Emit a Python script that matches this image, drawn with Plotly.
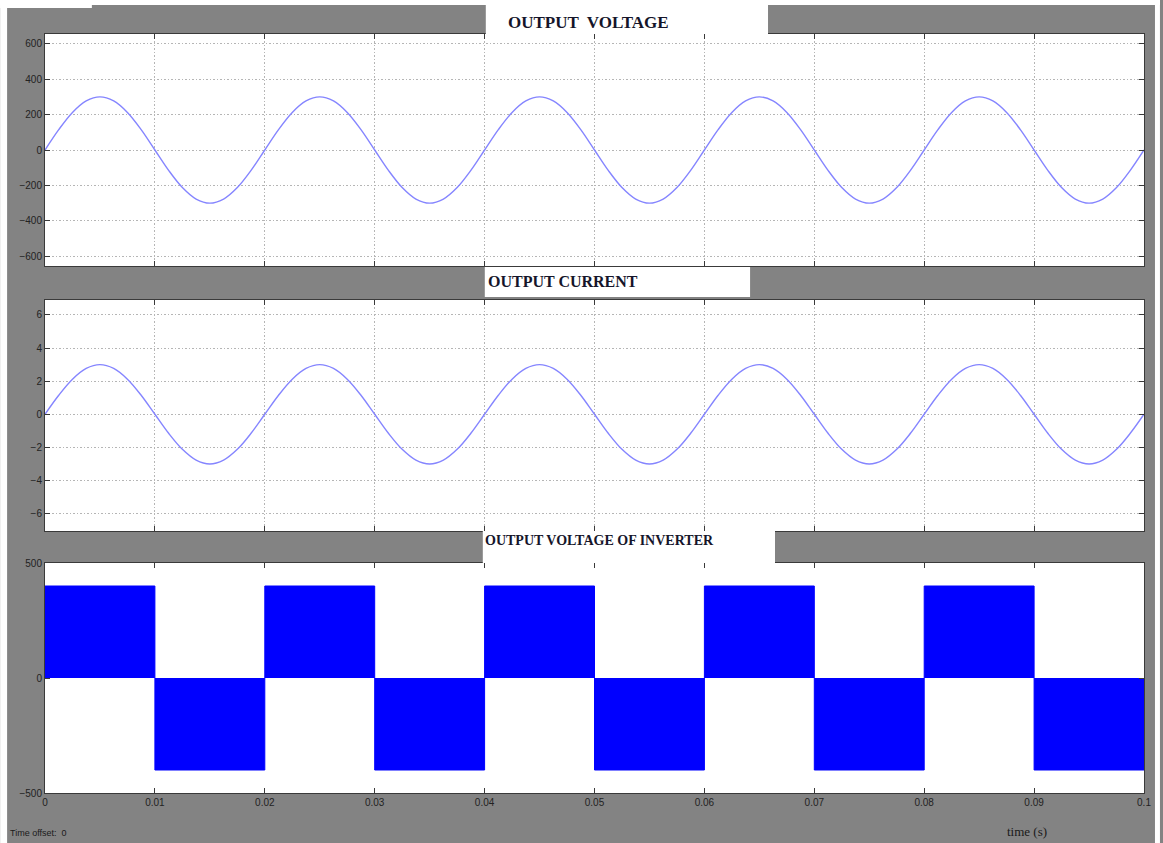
import plotly.graph_objects as go
from plotly.subplots import make_subplots

# ---- data ----
t_sine = [0.0, 0.00125, 0.0025, 0.00375, 0.005, 0.00625, 0.0075, 0.00875,
          0.01, 0.01125, 0.0125, 0.01375, 0.015, 0.01625, 0.0175, 0.01875,
          0.02, 0.02125, 0.0225, 0.02375, 0.025, 0.02625, 0.0275, 0.02875,
          0.03, 0.03125, 0.0325, 0.03375, 0.035, 0.03625, 0.0375, 0.03875,
          0.04, 0.04125, 0.0425, 0.04375, 0.045, 0.04625, 0.0475, 0.04875,
          0.05, 0.05125, 0.0525, 0.05375, 0.055, 0.05625, 0.0575, 0.05875,
          0.06, 0.06125, 0.0625, 0.06375, 0.065, 0.06625, 0.0675, 0.06875,
          0.07, 0.07125, 0.0725, 0.07375, 0.075, 0.07625, 0.0775, 0.07875,
          0.08, 0.08125, 0.0825, 0.08375, 0.085, 0.08625, 0.0875, 0.08875,
          0.09, 0.09125, 0.0925, 0.09375, 0.095, 0.09625, 0.0975, 0.09875,
          0.1]

voltage = [0, 115, 212, 277, 300, 277, 212, 115, 0, -115, -212, -277, -300, -277, -212, -115,
           0, 115, 212, 277, 300, 277, 212, 115, 0, -115, -212, -277, -300, -277, -212, -115,
           0, 115, 212, 277, 300, 277, 212, 115, 0, -115, -212, -277, -300, -277, -212, -115,
           0, 115, 212, 277, 300, 277, 212, 115, 0, -115, -212, -277, -300, -277, -212, -115,
           0, 115, 212, 277, 300, 277, 212, 115, 0, -115, -212, -277, -300, -277, -212, -115,
           0]

current = [0, 1.15, 2.12, 2.77, 3.0, 2.77, 2.12, 1.15, 0, -1.15, -2.12, -2.77, -3.0, -2.77, -2.12, -1.15,
           0, 1.15, 2.12, 2.77, 3.0, 2.77, 2.12, 1.15, 0, -1.15, -2.12, -2.77, -3.0, -2.77, -2.12, -1.15,
           0, 1.15, 2.12, 2.77, 3.0, 2.77, 2.12, 1.15, 0, -1.15, -2.12, -2.77, -3.0, -2.77, -2.12, -1.15,
           0, 1.15, 2.12, 2.77, 3.0, 2.77, 2.12, 1.15, 0, -1.15, -2.12, -2.77, -3.0, -2.77, -2.12, -1.15,
           0, 1.15, 2.12, 2.77, 3.0, 2.77, 2.12, 1.15, 0, -1.15, -2.12, -2.77, -3.0, -2.77, -2.12, -1.15,
           0]

t_step = [0.0, 0.01, 0.02, 0.03, 0.04, 0.05, 0.06, 0.07, 0.08, 0.09, 0.1]
inverter = [400, -400, 400, -400, 400, -400, 400, -400, 400, -400, -400]

x_ticks = [0, 0.01, 0.02, 0.03, 0.04, 0.05, 0.06, 0.07, 0.08, 0.09, 0.1]
x_labels = ["0", "0.01", "0.02", "0.03", "0.04", "0.05", "0.06", "0.07", "0.08", "0.09", "0.1"]

titles = ["OUTPUT  VOLTAGE", "OUTPUT CURRENT", "OUTPUT VOLTAGE OF INVERTER"]

# ---- figure ----
W, H = 1163, 843
L, R, T, B = 45, 16, 34, 50
PW, PH = W - L - R, H - T - B


def px(x):
    return (x - L) / PW


def py(y):
    return (H - B - y) / PH


fig = make_subplots(rows=3, cols=1, shared_xaxes=False, vertical_spacing=0.04)

sine_color = "#8585ff"
fig.add_trace(go.Scatter(x=t_sine, y=voltage, mode="lines", line=dict(color=sine_color, width=1.4, shape="spline"),
                         showlegend=False), row=1, col=1)
fig.add_trace(go.Scatter(x=t_sine, y=current, mode="lines", line=dict(color=sine_color, width=1.4, shape="spline"),
                         showlegend=False), row=2, col=1)
fig.add_trace(go.Scatter(x=t_step, y=inverter, mode="lines", line=dict(color="#0000ff", width=1, shape="hv"),
                         fill="tozeroy", fillcolor="#0000ff", showlegend=False), row=3, col=1)

domains = [(py(266), py(34)), (py(531), py(300)), (py(793), py(563))]
yranges = [(-655, 655), (-7.05, 6.9), (-500, 500)]
ydticks = [200, 2, 500]

axis_common = dict(showline=True, mirror="ticks", linecolor="#3a3a3a", linewidth=1,
                   ticks="inside", ticklen=5, tickcolor="#3a3a3a",
                   tickfont=dict(family="Liberation Sans, Arial", size=10, color="#222222"),
                   zeroline=False)

grid_dash = "1.5px,2px"
grid_color = "#b5b5b5"

for i in range(3):
    xa = "xaxis" if i == 0 else f"xaxis{i+1}"
    ya = "yaxis" if i == 0 else f"yaxis{i+1}"
    grid = i < 2
    fig.update_layout(**{
        xa: dict(axis_common, domain=[0, 1], range=[0, 0.1], tickvals=x_ticks, ticktext=x_labels,
                 showticklabels=(i == 2), showgrid=grid, gridcolor=grid_color, griddash=grid_dash, gridwidth=1),
        ya: dict(axis_common, domain=list(domains[i]), range=list(yranges[i]), dtick=ydticks[i],
                 tick0=0, showgrid=grid, gridcolor=grid_color, griddash=grid_dash, gridwidth=1),
    })

shapes = []
white = "#ffffff"


def rect(x0, y0, x1, y1, color):
    shapes.append(dict(type="rect", xref="paper", yref="paper", x0=px(x0), x1=px(x1), y0=py(y1), y1=py(y0),
                       fillcolor=color, line=dict(width=0), layer="above"))


# white borders of the screenshot
rect(0, 0, 7, H, white)
rect(0, 0, W, 5, white)
rect(0, 0, 92, 8, white)
rect(1158, 0, W, H, white)
# title boxes
rect(487, 0, 770, 34, white)
rect(486, 267, 752, 297, white)
rect(484, 531, 777, 563, white)

serif = "Liberation Serif, Times New Roman"
annotations = [
    dict(text="<b>" + titles[0] + "</b>", x=px(507), y=py(23), xanchor="left", font=dict(family=serif, size=17, color="#15152a")),
    dict(text="<b>" + titles[1] + "</b>", x=px(487), y=py(281), xanchor="left", font=dict(family=serif, size=16, color="#15152a")),
    dict(text="<b>" + titles[2] + "</b>", x=px(484), y=py(540), xanchor="left", font=dict(family=serif, size=14, color="#15152a")),
    dict(text="time (s)", x=px(1030), y=py(831), font=dict(family=serif, size=13, color="#1a1a1a")),
    dict(text="Time offset:  0", x=px(8), y=py(833), xanchor="left", font=dict(family="Liberation Sans, Arial", size=9, color="#1a1a1a")),
]
for a in annotations:
    a.update(xref="paper", yref="paper", showarrow=False)
    a.setdefault("xanchor", "center")
    a["yanchor"] = "middle"

fig.update_layout(width=W, height=H, margin=dict(l=L, r=R, t=T, b=B),
                  paper_bgcolor="#838383", plot_bgcolor="#ffffff",
                  shapes=shapes, annotations=annotations, showlegend=False)

fig.write_html("out.html", config={"displayModeBar": False},
               post_script="document.body.style.margin='0';document.body.style.overflow='hidden';")
